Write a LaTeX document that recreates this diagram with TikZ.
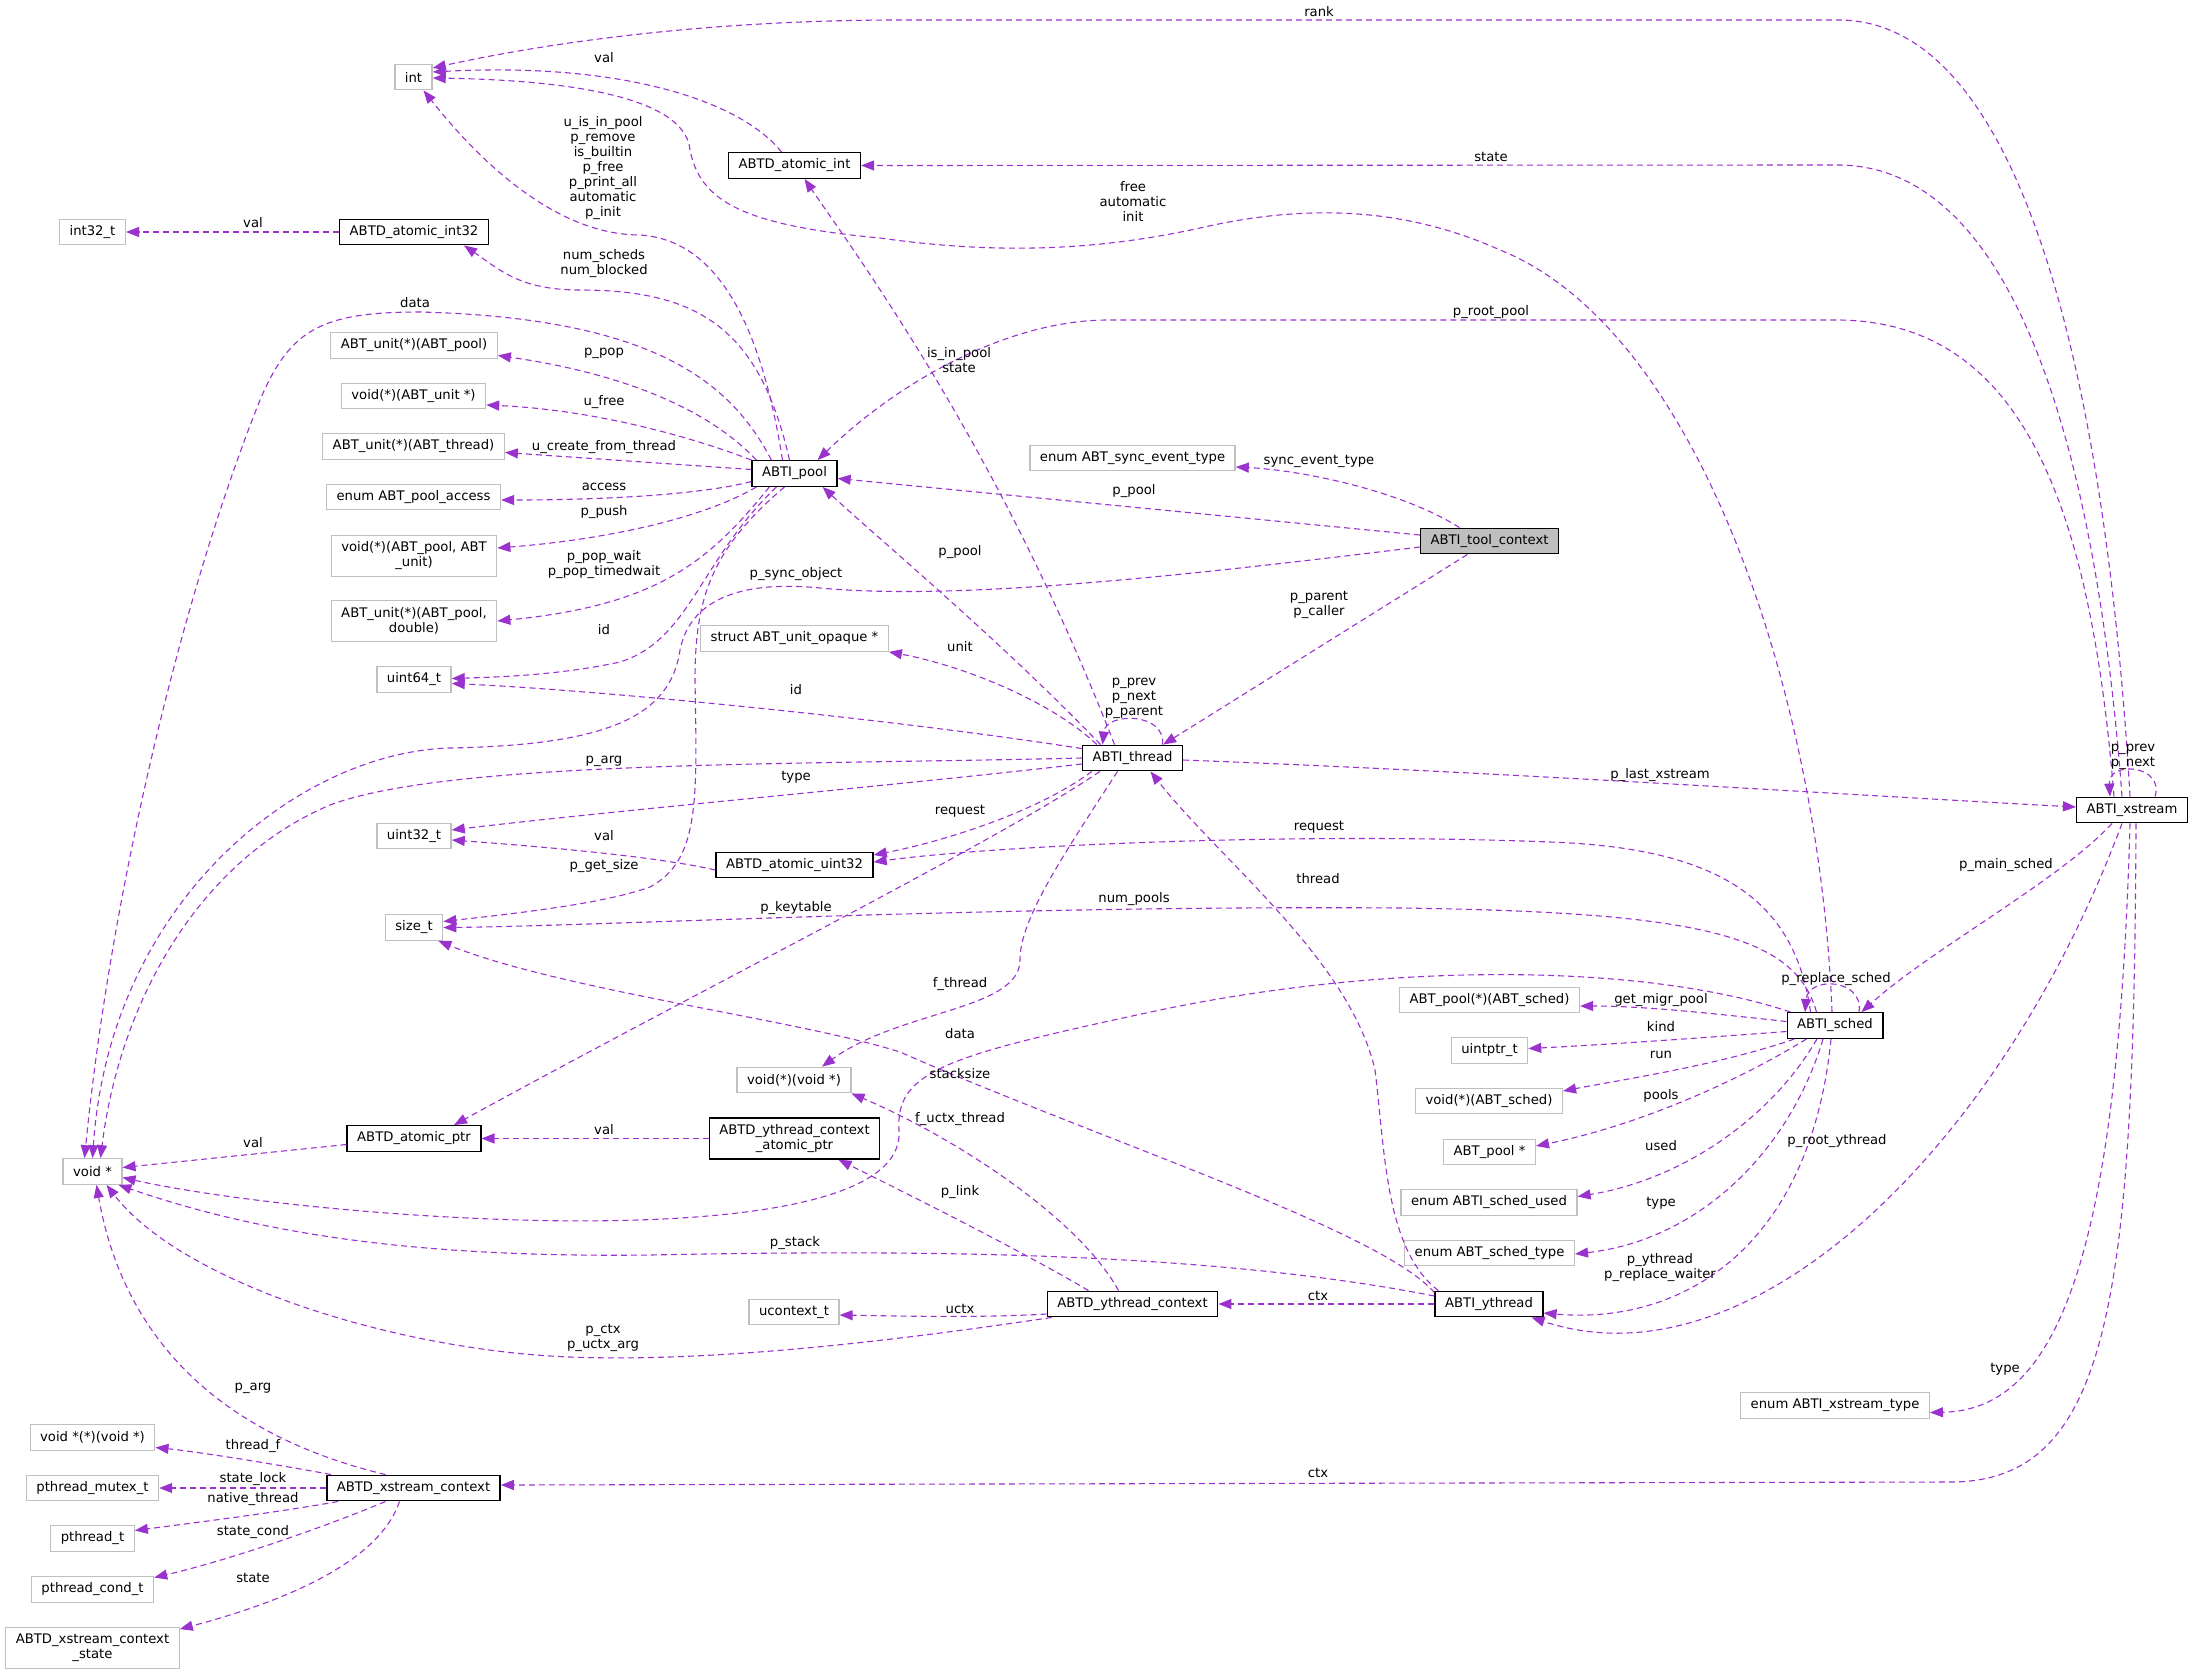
\documentclass[tikz,border=0pt]{standalone}
\usepackage{fontspec}
\setmainfont{DejaVu Sans}
\usetikzlibrary{arrows.meta,calc}
\definecolor{edgecol}{HTML}{9A32CD}
\definecolor{extgray}{HTML}{BFBFBF}
\definecolor{toolgray}{HTML}{BFBFBF}
\newcommand{\dxfont}{\fontsize{13.2}{15}\selectfont}
\tikzset{
  ext/.style={draw=extgray, line width=1.3pt, fill=white, inner xsep=10pt, inner ysep=0pt, minimum height=25.5pt, align=center, font=\dxfont},
  exttwo/.style={ext, minimum height=40.5pt},
  cls/.style={draw=black, line width=1.4pt, fill=white, inner xsep=10pt, inner ysep=0pt, minimum height=25.5pt, align=center, font=\dxfont},
  clstwo/.style={cls, minimum height=41pt},
  lbl/.style={inner sep=0pt, align=center, font=\dxfont},
  edge/.style={draw=edgecol, line width=1.1pt, dash pattern=on 6pt off 4pt, -{Triangle[length=13pt,width=10pt]}},
}
\begin{document}
\begin{tikzpicture}[x=1pt,y=-1pt]
\fill[white] (0,0) rectangle (2195,1674);
\useasboundingbox (0,0) rectangle (2195,1674);

% ---------- nodes ----------
\node[ext] (int) at (413.5,77) {int};
\node[cls] (atomicint) at (794.5,165.5) {ABTD\_atomic\_int};
\node[ext] (int32) at (92.5,232) {int32\_t};
\node[cls] (atomicint32) at (414,232) {ABTD\_atomic\_int32};
\node[ext] (unitpool) at (414,345.5) {ABT\_unit(*)(ABT\_pool)};
\node[ext] (voidunit) at (413.5,396) {void(*)(ABT\_unit *)};
\node[ext] (unitthread) at (413.5,446.5) {ABT\_unit(*)(ABT\_thread)};
\node[ext] (poolaccess) at (413.5,497) {enum ABT\_pool\_access};
\node[exttwo] (voidpoolunit) at (414,556) {void(*)(ABT\_pool, ABT\\\_unit)};
\node[exttwo] (unitpooldouble) at (414,621) {ABT\_unit(*)(ABT\_pool,\\double)};
\node[ext] (uint64) at (414,679.5) {uint64\_t};
\node[cls] (pool) at (794.5,473.5) {ABTI\_pool};
\node[ext] (unitopaque) at (794.5,638.5) {struct ABT\_unit\_opaque *};
\node[ext] (uint32) at (414,836) {uint32\_t};
\node[cls] (atomicuint32) at (794.5,865) {ABTD\_atomic\_uint32};
\node[ext] (sizet) at (414,927.5) {size\_t};
\node[ext] (voidfn) at (794,1080) {void(*)(void *)};
\node[cls] (atomicptr) at (414,1138.5) {ABTD\_atomic\_ptr};
\node[clstwo] (ytcap) at (794.5,1138.5) {ABTD\_ythread\_context\\\_atomic\_ptr};
\node[ext] (voidp) at (92.5,1171.5) {void *};
\node[ext] (ucontext) at (794,1312) {ucontext\_t};
\node[ext] (voidpfn) at (92.5,1437.5) {void *(*)(void *)};
\node[ext] (mutex) at (92.5,1488) {pthread\_mutex\_t};
\node[cls] (xsctx) at (413.5,1488) {ABTD\_xstream\_context};
\node[ext] (pthread) at (92.5,1538.5) {pthread\_t};
\node[ext] (cond) at (92.5,1589.5) {pthread\_cond\_t};
\node[exttwo] (xsstate) at (92.5,1648) {ABTD\_xstream\_context\\\_state};
\node[ext] (syncevt) at (1132.5,458) {enum ABT\_sync\_event\_type};
\node[cls, fill=toolgray] (tool) at (1489.5,541) {ABTI\_tool\_context};
\node[cls] (thread) at (1132.5,758) {ABTI\_thread};
\node[cls] (ytctx) at (1132.5,1304) {ABTD\_ythread\_context};
\node[cls] (ythread) at (1489,1304) {ABTI\_ythread};
\node[ext] (poolsched) at (1489.5,1000) {ABT\_pool(*)(ABT\_sched)};
\node[cls] (sched) at (1835,1025.5) {ABTI\_sched};
\node[ext] (uintptr) at (1489.5,1050.5) {uintptr\_t};
\node[ext] (voidsched) at (1489,1101) {void(*)(ABT\_sched)};
\node[ext] (poolptr) at (1489.5,1152) {ABT\_pool *};
\node[ext] (schedused) at (1489,1202.5) {enum ABTI\_sched\_used};
\node[ext] (schedtype) at (1489.5,1253) {enum ABT\_sched\_type};
\node[cls] (xstream) at (2132,810) {ABTI\_xstream};
\node[ext] (xstype) at (1835,1405.5) {enum ABTI\_xstream\_type};

% ---------- edges ----------
% to int
\draw[edge] ($(atomicint.north)+(-13,0)$) .. controls (740,100) and (620,62) .. ($(int.east)+(0,-5)$);
\draw[edge] ($(pool.north)+(-12,0)$) .. controls (762,330) and (720,240) .. (640,235) .. controls (540,235) and (455,130) .. ($(int.south)+(10,0)$);
\draw[edge] ($(sched.north)+(-3,0)$) .. controls (1820,700) and (1700,330) .. (1500,250) .. controls (1400,205) and (1300,205) .. (1200,228) .. controls (1100,250) and (1000,255) .. (880,238) .. controls (740,225) and (700,200) .. (690,150) .. controls (685,95) and (560,80) .. ($(int.east)+(0,1)$);
\draw[edge] ($(xstream.north)+(-2,0)$) .. controls (2110,450) and (2040,22) .. (1840,20) -- (900,20) .. controls (720,20) and (560,40) .. ($(int.east)+(0,-9)$);
% xstream
\draw[edge] ($(xstream.north)+(-10,0)$) .. controls (2100,500) and (2030,168) .. (1840,165) -- (atomicint.east);
\draw[edge] ($(xstream.north)+(-18,0)$) .. controls (2090,500) and (2020,323) .. (1840,320) -- (1108,320) .. controls (1010,320) and (900,380) .. ($(pool.north east)+(-20,0)$);
\draw[edge] ($(xstream.north)+(23,0)$) .. controls (2165,765) and (2108,760) .. ($(xstream.north)+(-22,0)$);
\draw[edge] ($(thread.east)+(0,2)$) .. controls (1500,772) and (1850,795) .. ($(xstream.west)+(0,-3)$);
\draw[edge] ($(xstream.south)+(-20,0)$) .. controls (2060,880) and (1930,950) .. ($(sched.north east)+(-22,0)$);
\draw[edge] ($(xstream.south)+(-2,0)$) .. controls (2118,1250) and (2060,1410) .. ($(xstype.east)+(0,7)$);
\draw[edge] ($(xstream.south)+(4,0)$) .. controls (2134,1300) and (2110,1482) .. (1950,1482) -- ($(xsctx.east)+(0,-3)$);
\draw[edge] ($(xstream.south)+(-10,0)$) .. controls (2000,1150) and (1750,1390) .. ($(ythread.south east)+(-12,0)$);
% sched
\draw[edge] ($(sched.south)+(-4,0)$) .. controls (1810,1250) and (1680,1325) .. ($(ythread.east)+(0,9)$);
\draw[edge] ($(sched.north)+(24,0)$) .. controls (1864,978) and (1808,976) .. ($(sched.north)+(-30,0)$);
\draw[edge] ($(sched.west)+(0,-4)$) .. controls (1700,1012) and (1640,1006) .. ($(poolsched.east)+(0,6)$);
\draw[edge] ($(sched.west)+(0,6)$) .. controls (1700,1038) and (1600,1045) .. ($(uintptr.east)+(0,-2)$);
\draw[edge] ($(sched.south west)+(8,0)$) .. controls (1720,1065) and (1620,1080) .. ($(voidsched.east)+(0,-10)$);
\draw[edge] ($(sched.south west)+(20,0)$) .. controls (1740,1080) and (1640,1125) .. ($(poolptr.east)+(0,-6)$);
\draw[edge] ($(sched.south)+(-18,0)$) .. controls (1770,1120) and (1680,1180) .. ($(schedused.east)+(0,-6)$);
\draw[edge] ($(sched.south)+(-12,0)$) .. controls (1790,1150) and (1700,1240) .. ($(schedtype.east)+(0,1)$);
\draw[edge] ($(sched.north west)+(24,0)$) .. controls (1795,900) and (1720,848) .. (1550,842) .. controls (1300,832) and (1000,845) .. ($(atomicuint32.east)+(0,-3)$);
\draw[edge] ($(sched.north west)+(30,0)$) .. controls (1795,935) and (1700,912) .. (1400,908) .. controls (1000,905) and (600,926) .. (sizet.east);
\draw[edge] ($(sched.north west)+(4,0)$) .. controls (1650,965) and (1400,960) .. (1160,1010) .. controls (950,1055) and (895,1070) .. (899,1130) .. controls (905,1210) and (700,1225) .. (520,1220) .. controls (350,1215) and (200,1195) .. ($(voidp.east)+(0,6)$);
% ythread
\draw[edge] ($(ythread.north west)+(4,0)$) .. controls (1385,1250) and (1385,1150) .. (1375,1070) .. controls (1350,960) and (1220,860) .. ($(thread.south)+(18,0)$);
\draw[edge] (ythread.west) -- (ytctx.east);
\draw[edge] ($(ythread.north west)+(0,2)$) .. controls (1380,1230) and (1100,1140) .. (900,1052) .. controls (800,1020) and (560,990) .. ($(sizet.south east)+(-5,0)$);
\draw[edge] ($(ythread.west)+(0,-8)$) .. controls (1200,1250) and (900,1250) .. (650,1255) .. controls (400,1258) and (250,1230) .. ($(voidp.south east)+(-4,0)$);
% ythread context
\draw[edge] ($(ytctx.north)+(-44,0)$) .. controls (1020,1250) and (900,1190) .. ($(ytcap.south)+(44,0)$);
\draw[edge] ($(ytctx.north)+(-14,0)$) .. controls (1080,1220) and (960,1140) .. (voidfn.south east);
\draw[edge] ($(ytctx.west)+(0,10)$) .. controls (980,1318) and (900,1316) .. ($(ucontext.east)+(0,3)$);
\draw[edge] ($(ytctx.south west)+(5,0)$) .. controls (900,1340) and (700,1365) .. (550,1356) .. controls (380,1345) and (180,1280) .. ($(voidp.south)+(14,0)$);
% xstream context
\draw[edge] ($(xsctx.north)+(-28,0)$) .. controls (200,1430) and (120,1320) .. ($(voidp.south)+(4,0)$);
\draw[edge] ($(xsctx.north west)+(5,0)$) .. controls (280,1465) and (200,1452) .. ($(voidpfn.east)+(0,10)$);
\draw[edge] (xsctx.west) -- (mutex.east);
\draw[edge] ($(xsctx.south west)+(12,0)$) .. controls (280,1512) and (200,1522) .. ($(pthread.east)+(0,-8)$);
\draw[edge] ($(xsctx.south)+(-28,0)$) .. controls (330,1525) and (230,1560) .. ($(cond.east)+(0,-12)$);
\draw[edge] ($(xsctx.south)+(-14,0)$) .. controls (380,1560) and (290,1600) .. ($(xsstate.north east)+(0,2)$);
% atomic
\draw[edge] ($(atomicptr.west)+(0,6)$) -- ($(voidp.east)+(0,-4)$);
\draw[edge] (ytcap.west) -- (atomicptr.east);
\draw[edge] ($(atomicuint32.west)+(0,5)$) .. controls (650,855) and (520,845) .. ($(uint32.east)+(0,4)$);
\draw[edge] (atomicint32.west) -- (int32.east);
% thread
\draw[edge] ($(thread.south west)+(10,0)$) .. controls (1040,810) and (950,840) .. ($(atomicuint32.east)+(0,-10)$);
\draw[edge] ($(thread.west)+(0,6)$) .. controls (900,785) and (600,812) .. ($(uint32.east)+(0,-6)$);
\draw[edge] (thread.west) .. controls (800,765) and (450,760) .. (330,805) .. controls (200,860) and (120,1000) .. ($(voidp.north)+(8,0)$);
\draw[edge] ($(thread.north west)+(0,4)$) .. controls (900,720) and (600,690) .. ($(uint64.east)+(0,4)$);
\draw[edge] ($(thread.north west)+(15,0)$) .. controls (1050,700) and (960,665) .. (unitopaque.south east);
\draw[edge] ($(thread.north)+(-32,0)$) .. controls (1000,640) and (880,540) .. ($(pool.south east)+(-15,0)$);
\draw[edge] ($(thread.north)+(-18,0)$) .. controls (1000,450) and (860,260) .. ($(atomicint.south)+(10,0)$);
\draw[edge] ($(thread.north)+(30,0)$) .. controls (1166,712) and (1106,712) .. ($(thread.north)+(-30,0)$);
\draw[edge] ($(thread.south west)+(18,0)$) .. controls (1000,840) and (700,990) .. ($(atomicptr.north)+(40,0)$);
\draw[edge] ($(thread.south)+(-15,0)$) .. controls (1060,860) and (1020,920) .. (1020,960) .. controls (1020,1010) and (900,1010) .. ($(voidfn.north)+(28,0)$);
% tool
\draw[edge] ($(tool.south)+(-22,0)$) -- ($(thread.north east)+(-20,0)$);
\draw[edge] ($(tool.west)+(0,-6)$) -- ($(pool.east)+(0,5)$);
\draw[edge] ($(tool.north)+(-30,0)$) .. controls (1400,490) and (1300,470) .. ($(syncevt.east)+(0,9)$);
\draw[edge] ($(tool.west)+(0,6)$) .. controls (1150,580) and (950,600) .. (820,588) .. controls (740,580) and (690,600) .. (680,650) .. controls (670,720) and (600,745) .. (450,748) .. controls (300,752) and (110,900) .. ($(voidp.north)+(0,0)$);
% pool
\draw[edge] ($(pool.north west)+(20,0)$) .. controls (730,380) and (650,318) .. (420,312) .. controls (320,312) and (290,330) .. (260,400) .. controls (180,600) and (110,900) .. ($(voidp.north)+(-8,0)$);
\draw[edge] ($(pool.north west)+(5,0)$) .. controls (700,400) and (600,370) .. ($(unitpool.east)+(0,10)$);
\draw[edge] (pool.north west) .. controls (700,440) and (600,410) .. ($(voidunit.east)+(0,9)$);
\draw[edge] ($(pool.west)+(0,-4)$) -- ($(unitthread.east)+(0,6)$);
\draw[edge] ($(pool.west)+(0,8)$) .. controls (700,495) and (600,500) .. ($(poolaccess.east)+(0,3)$);
\draw[edge] ($(pool.south west)+(5,0)$) .. controls (700,520) and (600,540) .. ($(voidpoolunit.east)+(0,-8)$);
\draw[edge] ($(pool.south west)+(18,0)$) .. controls (710,560) and (660,605) .. (unitpooldouble.east);
\draw[edge] ($(pool.south west)+(25,0)$) .. controls (700,560) and (690,640) .. (620,662) .. controls (560,675) and (500,677) .. ($(uint64.east)+(0,-1)$);
\draw[edge] ($(pool.north)+(-5,0)$) .. controls (760,330) and (700,290) .. (580,290) .. controls (520,290) and (500,270) .. ($(atomicint32.south east)+(-25,0)$);
\draw[edge] ($(pool.south)+(-10,0)$) .. controls (710,550) and (695,600) .. (695,680) .. controls (697,800) and (700,860) .. (650,887) .. controls (600,905) and (500,915) .. ($(sizet.east)+(0,-6)$);

% ---------- labels ----------
\node[lbl] (l1) at (604,58) {val};
\node[lbl] (l2) at (253,223) {val};
\node[lbl] (l3) at (603,168) {u\_is\_in\_pool\\p\_remove\\is\_builtin\\p\_free\\p\_print\_all\\automatic\\p\_init};
\node[lbl] (l4) at (604,264) {num\_scheds\\num\_blocked};
\node[lbl] (l5) at (415,303) {data};
\node[lbl] (l6) at (604,353) {p\_pop};
\node[lbl] (l7) at (604,402) {u\_free};
\node[lbl] (l8) at (604,447) {u\_create\_from\_thread};
\node[lbl] (l9) at (604,487) {access};
\node[lbl] (l10) at (604,512) {p\_push};
\node[lbl] (l11) at (604,565) {p\_pop\_wait\\p\_pop\_timedwait};
\node[lbl] (l12) at (604,630) {id};
\node[lbl] (l13) at (604,866) {p\_get\_size};
\node[lbl] (l14) at (604,836) {val};
\node[lbl] (l15) at (796,574) {p\_sync\_object};
\node[lbl] (l16) at (796,690) {id};
\node[lbl] (l17) at (796,777) {type};
\node[lbl] (l18) at (604,761) {p\_arg};
\node[lbl] (l19) at (796,908) {p\_keytable};
\node[lbl] (l20) at (604,1130) {val};
\node[lbl] (l21) at (253,1143) {val};
\node[lbl] (l22) at (960,1034) {data};
\node[lbl] (l23) at (960,1074) {stacksize};
\node[lbl] (l24) at (960,984) {f\_thread};
\node[lbl] (l25) at (960,1119) {f\_uctx\_thread};
\node[lbl] (l26) at (960,1192) {p\_link};
\node[lbl] (l27) at (960,1309) {uctx};
\node[lbl] (l28) at (795,1243) {p\_stack};
\node[lbl] (l29) at (603,1338) {p\_ctx\\p\_uctx\_arg};
\node[lbl] (l30) at (253,1388) {p\_arg};
\node[lbl] (l31) at (253,1446) {thread\_f};
\node[lbl] (l32) at (253,1479) {state\_lock};
\node[lbl] (l33) at (253,1499) {native\_thread};
\node[lbl] (l34) at (253,1532) {state\_cond};
\node[lbl] (l35) at (253,1578) {state};
\node[lbl] (l36) at (1133,201) {free\\automatic\\init};
\node[lbl] (l37) at (1319,12) {rank};
\node[lbl] (l38) at (1491,157) {state};
\node[lbl] (l39) at (1491,312) {p\_root\_pool};
\node[lbl] (l40) at (959,360) {is\_in\_pool\\state};
\node[lbl] (l41) at (1319,461) {sync\_event\_type};
\node[lbl] (l42) at (1134,491) {p\_pool};
\node[lbl] (l43) at (1319,605) {p\_parent\\p\_caller};
\node[lbl] (l44) at (960,647) {unit};
\node[lbl] (l45) at (960,552) {p\_pool};
\node[lbl] (l46) at (1134,698) {p\_prev\\p\_next\\p\_parent};
\node[lbl] (l47) at (960,811) {request};
\node[lbl] (l48) at (1319,827) {request};
\node[lbl] (l49) at (1134,899) {num\_pools};
\node[lbl] (l50) at (1318,879) {thread};
\node[lbl] (l51) at (1318,1296) {ctx};
\node[lbl] (l52) at (1660,775) {p\_last\_xstream};
\node[lbl] (l53) at (2133,757) {p\_prev\\p\_next};
\node[lbl] (l54) at (2006,865) {p\_main\_sched};
\node[lbl] (l55) at (1836,979) {p\_replace\_sched};
\node[lbl] (l56) at (1661,1000) {get\_migr\_pool};
\node[lbl] (l57) at (1661,1027) {kind};
\node[lbl] (l58) at (1661,1055) {run};
\node[lbl] (l59) at (1661,1096) {pools};
\node[lbl] (l60) at (1661,1146) {used};
\node[lbl] (l61) at (1661,1203) {type};
\node[lbl] (l62) at (1837,1141) {p\_root\_ythread};
\node[lbl] (l63) at (1660,1268) {p\_ythread\\p\_replace\_waiter};
\node[lbl] (l64) at (2005,1369) {type};
\node[lbl] (l65) at (1318,1473) {ctx};
\end{tikzpicture}
\end{document}
